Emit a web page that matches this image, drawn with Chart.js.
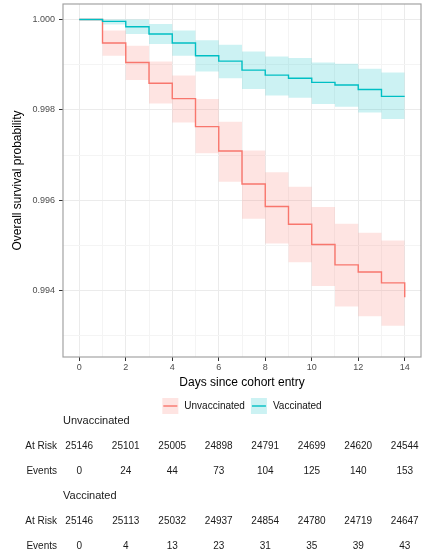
<!DOCTYPE html>
<html>
<head>
<meta charset="utf-8">
<title>Overall survival</title>
<script src="https://cdn.jsdelivr.net/npm/chart.js@4/dist/chart.umd.min.js"></script>
<style>
    body { margin: 0; background: #fff; }
    #wrap { width: 422px; height: 558px; }
</style>
</head>
<body>
<div id="wrap"><canvas id="survivalChart" width="422" height="558"></canvas></div>
<script>
// ===== DATA =====
const days = [0, 1, 2, 3, 4, 5, 6, 7, 8, 9, 10, 11, 12, 13, 14];

const unvacSurv = [1.00000, 0.99948, 0.99905, 0.99859, 0.99825, 0.99763, 0.99709, 0.99636, 0.99586, 0.99547, 0.99502, 0.99457, 0.99441, 0.99417, 0.99385];
const unvacUpper = [1.00000, 0.99976, 0.99942, 0.99907, 0.99876, 0.99824, 0.99774, 0.99710, 0.99662, 0.99630, 0.99585, 0.99548, 0.99528, 0.99511, 0.99511];
const unvacLower = [1.00000, 0.99920, 0.99866, 0.99814, 0.99772, 0.99704, 0.99641, 0.99559, 0.99504, 0.99463, 0.99410, 0.99365, 0.99343, 0.99322, 0.99322];

const vacSurv = [1.00000, 0.99996, 0.99984, 0.99968, 0.99948, 0.99920, 0.99908, 0.99888, 0.99877, 0.99870, 0.99861, 0.99855, 0.99845, 0.99830, 0.99830];
const vacUpper = [1.00000, 1.00000, 1.00000, 0.99990, 0.99976, 0.99954, 0.99944, 0.99929, 0.99918, 0.99915, 0.99905, 0.99902, 0.99891, 0.99883, 0.99883];
const vacLower = [1.00000, 0.99989, 0.99968, 0.99946, 0.99920, 0.99885, 0.99870, 0.99846, 0.99832, 0.99827, 0.99813, 0.99807, 0.99794, 0.99780, 0.99780];

// risk table (every 2 days)
const tableDays = [0, 2, 4, 6, 8, 10, 12, 14];
const unvacAtRisk = [25146, 25101, 25005, 24898, 24791, 24699, 24620, 24544];
const unvacEvents = [0, 24, 44, 73, 104, 125, 140, 153];
const vacAtRisk = [25146, 25113, 25032, 24937, 24854, 24780, 24719, 24647];
const vacEvents = [0, 4, 13, 23, 31, 35, 39, 43];

const groupNames = ["Unvaccinated", "Vaccinated"];

// ===== STYLE =====
const RED = "#F8766D";
const TEAL = "#00BFC4";
const RED_FILL = "rgba(248,118,109,0.2)";
const TEAL_FILL = "rgba(0,191,196,0.2)";
const FONT = "'Liberation Sans', Arial, Helvetica, sans-serif";

Chart.defaults.font.family = FONT;

function toPoints(values) {
    return days.map((d, i) => ({ x: d, y: values[i] }));
}

function isMajorY(v) {
    return Math.round(v * 1000) % 2 === 0;
}

// ===== LEGEND + TABLE (drawn after the chart) =====
const extrasPlugin = {
    id: "extras",
    afterDraw(chart) {
        const { ctx, chartArea } = chart;
        const xScale = chart.scales.x;

        // panel border
        ctx.save();
        ctx.strokeStyle = "#A3A3A3";
        ctx.lineWidth = 1.2;
        ctx.strokeRect(chartArea.left, chartArea.top, chartArea.right - chartArea.left, chartArea.bottom - chartArea.top);

        // legend
        ctx.font = "10px " + FONT;
        ctx.textBaseline = "middle";
        const keySize = 16;
        const gap = 6;
        const items = [
            { label: groupNames[0], line: RED, fill: RED_FILL },
            { label: groupNames[1], line: TEAL, fill: TEAL_FILL },
        ];
        let total = 0;
        items.forEach((it, i) => {
            it.w = ctx.measureText(it.label).width;
            total += keySize + gap + it.w + (i < items.length - 1 ? gap : 0);
        });
        let lx = (chartArea.left + chartArea.right) / 2 - total / 2;
        const ly = 406;
        items.forEach((it) => {
            ctx.fillStyle = it.fill;
            ctx.fillRect(lx, ly - keySize / 2, keySize, keySize);
            ctx.strokeStyle = it.line;
            ctx.lineWidth = 1.4;
            ctx.beginPath();
            ctx.moveTo(lx + 1, ly);
            ctx.lineTo(lx + keySize - 1, ly);
            ctx.stroke();
            ctx.fillStyle = "#111";
            ctx.textAlign = "left";
            ctx.fillText(it.label, lx + keySize + gap, ly);
            lx += keySize + gap + it.w + gap;
        });

        // risk table
        const blocks = [
            { name: groupNames[0], atRisk: unvacAtRisk, events: unvacEvents, y: 421 },
            { name: groupNames[1], atRisk: vacAtRisk, events: vacEvents, y: 496 },
        ];
        ctx.fillStyle = "#1a1a1a";
        blocks.forEach((b) => {
            ctx.font = "11px " + FONT;
            ctx.textAlign = "left";
            ctx.fillText(b.name, chartArea.left, b.y);

            ctx.font = "10px " + FONT;
            ctx.textAlign = "right";
            ctx.fillText("At Risk", 57, b.y + 25);
            ctx.fillText("Events", 57, b.y + 50);

            ctx.textAlign = "center";
            tableDays.forEach((d, i) => {
                const px = xScale.getPixelForValue(d);
                ctx.fillText(String(b.atRisk[i]), px, b.y + 25);
                ctx.fillText(String(b.events[i]), px, b.y + 50);
            });
        });
        ctx.restore();
    },
};

// ===== CHART =====
const ctx = document.getElementById("survivalChart").getContext("2d");

const stepLine = (label, values, color) => ({
    label,
    data: toPoints(values),
    stepped: "before",
    borderColor: color,
    borderWidth: 1.4,
    pointRadius: 0,
    fill: false,
});

const band = (values, fillColor, fillTarget) => ({
    data: toPoints(values),
    stepped: "before",
    borderWidth: 0,
    borderColor: "rgba(0,0,0,0)",
    backgroundColor: fillColor,
    pointRadius: 0,
    fill: fillTarget,
});

new Chart(ctx, {
    type: "line",
    data: {
        datasets: [
            stepLine(groupNames[1], vacSurv, TEAL),
            stepLine(groupNames[0], unvacSurv, RED),
            band(unvacUpper, RED_FILL, false),
            band(unvacLower, RED_FILL, "-1"),
            band(vacUpper, TEAL_FILL, false),
            band(vacLower, TEAL_FILL, "-1"),
        ],
    },
    options: {
        responsive: false,
        animation: false,
        events: [],
        layout: {
            autoPadding: false,
            padding: { left: 0, right: 1, top: 4, bottom: 161 },
        },
        plugins: {
            legend: { display: false },
            tooltip: { enabled: false },
        },
        scales: {
            x: {
                type: "linear",
                min: -0.7,
                max: 14.7,
                afterFit(scale) {
                    scale.height = 40;
                    scale.paddingLeft = 0;
                    scale.paddingRight = 0;
                },
                ticks: {
                    stepSize: 1,
                    autoSkip: false,
                    includeBounds: false,
                    maxRotation: 0,
                    padding: 1,
                    color: "#4D4D4D",
                    font: { size: 9 },
                    callback: (v) => (v % 2 === 0 ? String(v) : ""),
                },
                grid: {
                    color: (c) => (c.tick && c.tick.value % 2 === 0 ? "#EBEBEB" : "#F4F4F4"),
                    lineWidth: 1,
                    tickLength: 4,
                    tickColor: (c) => (c.tick && c.tick.value % 2 === 0 ? "#333333" : "rgba(0,0,0,0)"),
                },
                border: { display: false },
                title: {
                    display: true,
                    text: "Days since cohort entry",
                    color: "#000",
                    font: { size: 12 },
                    padding: { top: 0, bottom: 7 },
                },
            },
            y: {
                type: "linear",
                min: 0.99253,
                max: 1.000344,
                afterFit(scale) {
                    scale.width = 63;
                    scale.paddingTop = 0;
                    scale.paddingBottom = 0;
                },
                ticks: {
                    stepSize: 0.001,
                    autoSkip: false,
                    includeBounds: false,
                    padding: 4,
                    color: "#4D4D4D",
                    font: { size: 9 },
                    callback: (v) => (isMajorY(v) ? v.toFixed(3) : ""),
                },
                grid: {
                    color: (c) => (c.tick && isMajorY(c.tick.value) ? "#EBEBEB" : "#F4F4F4"),
                    lineWidth: 1,
                    tickLength: 4,
                    tickColor: (c) => (c.tick && isMajorY(c.tick.value) ? "#333333" : "rgba(0,0,0,0)"),
                },
                border: { display: false },
                title: {
                    display: true,
                    text: "Overall survival probability",
                    color: "#000",
                    font: { size: 12 },
                    padding: { top: 10, bottom: 0 },
                },
            },
        },
    },
    plugins: [extrasPlugin],
});
</script>
</body>
</html>
